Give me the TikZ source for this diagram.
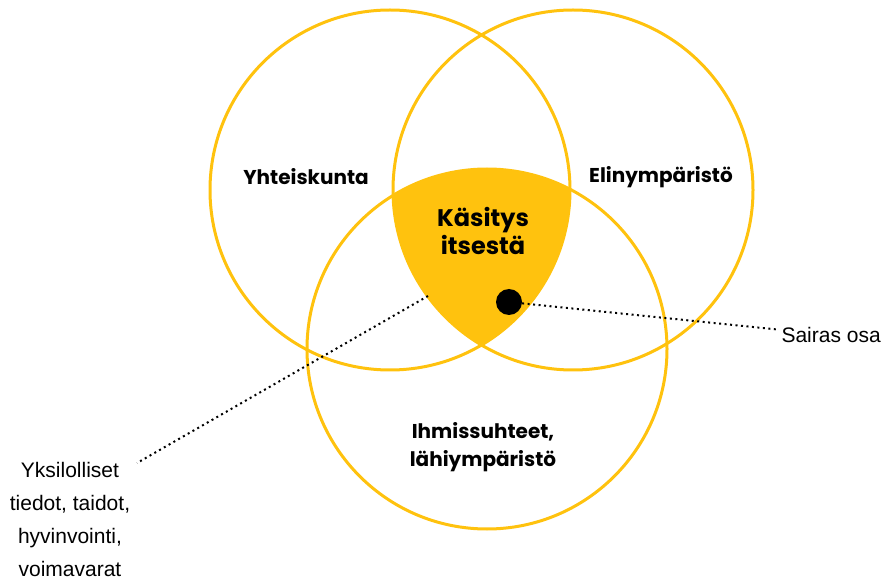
\documentclass[tikz,border=0pt]{standalone}
\usepackage{fontspec}
\setmainfont{Liberation Sans}
\newfontfamily\headfont{Poppins}
\definecolor{sun}{HTML}{FFC20E}

\begin{document}
\begin{tikzpicture}[x=1pt,y=-1pt,
    ring/.style = {circle, draw=sun, line width=3pt, minimum size=360pt, inner sep=0pt},
    head/.style = {font=\headfont\bfseries\fontsize{20}{28}\selectfont, align=center},
    note/.style = {font=\fontsize{21}{33}\selectfont, align=center},
    lead/.style = {line width=2pt, dash pattern=on 2pt off 3.5pt}]
    \useasboundingbox (0,0) rectangle (884,577);
    % shared part of the three circles
    \begin{scope}
        \clip (390,190) circle (180pt);
        \clip (573,190) circle (180pt);
        \fill[sun] (487,349) circle (180pt);
    \end{scope}
    \node[ring] (1) at (390,190) {};
    \node[ring] (2) at (573,190) {};
    \node[ring] (3) at (487,349) {};
    \node[head] (4) at (306,177) {Yhteiskunta};
    \node[head] (5) at (661,177) {Elinympäristö};
    \node[head, font=\headfont\bfseries\fontsize{24}{28}\selectfont] (6) at (483,231) {Käsitys\\itsestä};
    \node[head] (7) at (483,447) {Ihmissuhteet,\\lähiympäristö};
    \node[circle, fill=black, minimum size=26pt, inner sep=0pt] (8) at (509,302) {};
    \node[note, anchor=west] (9) at (778,335) {Sairas osa};
    \node[note] (10) at (70,519) {Yksilolliset\\tiedot, taidot,\\hyvinvointi,\\voimavarat};
    \coordinate (11) at (428,296);
    \coordinate (12) at (137,463);
    \path[lead]
        (8) edge (9)
        (11) edge (12);
\end{tikzpicture}
\end{document}
